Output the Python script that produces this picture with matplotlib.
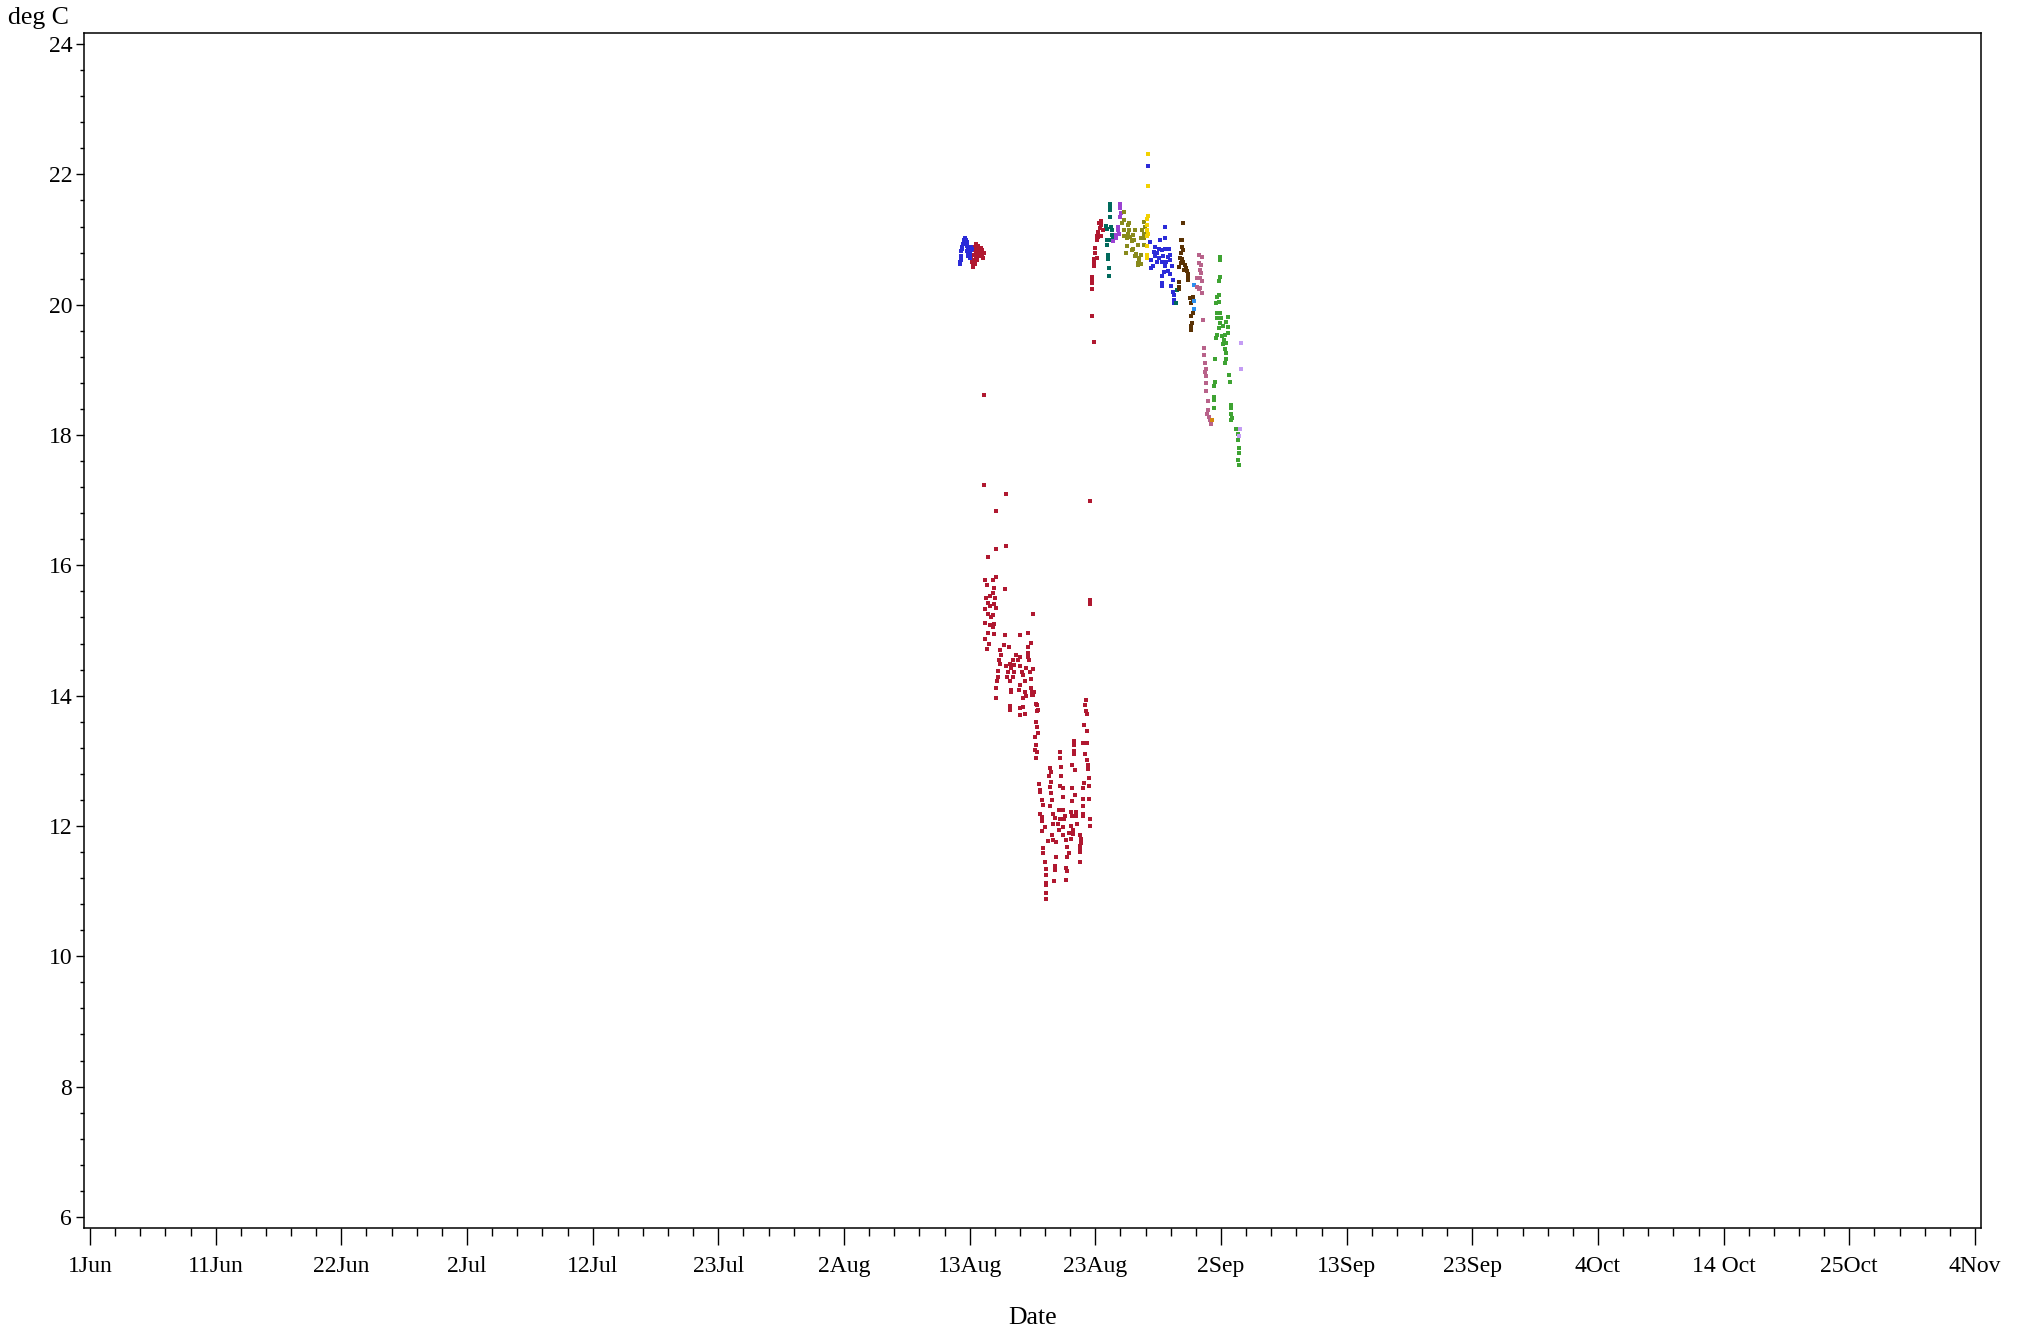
import matplotlib
matplotlib.use("Agg")
import matplotlib.pyplot as plt
from matplotlib.ticker import MultipleLocator, NullFormatter

# x values are days since 1 Jun, y values are deg C
tick_labels = ["1Jun", "11Jun", "22Jun", "2Jul", "12Jul", "23Jul", "2Aug", "13Aug",
               "23Aug", "2Sep", "13Sep", "23Sep", "4Oct", "14 Oct", "25Oct", "4Nov"]

red_pts = [
    # 13 Aug
    (72.95, 20.72), (73.0, 20.66), (73.05, 20.6), (73.1, 20.68), (73.15, 20.76), (73.2, 20.84),
    (73.25, 20.88), (73.3, 20.91), (73.35, 20.93), (73.45, 20.9), (73.5, 20.86), (73.55, 20.8),
    (73.6, 20.75), (73.65, 20.82), (73.7, 20.87), (73.8, 20.84), (73.85, 20.78), (73.9, 20.72),
    (73.3, 20.8), (73.35, 20.74), (73.4, 20.68), (73.2, 20.62), (73.1, 20.58), (73.95, 20.8),
    (73.95, 18.62),
    # drop
    (74.0, 17.23), (75.8, 17.09), (75.0, 16.84), (75.8, 16.30), (75.0, 16.25), (74.3, 16.13),
    (74.1, 15.78), (74.2, 15.70), (74.75, 15.78), (74.95, 15.82), (74.8, 15.65), (75.7, 15.64),
    (74.75, 15.58), (74.15, 15.50), (74.5, 15.53), (74.9, 15.50), (74.3, 15.42), (74.85, 15.41),
    (74.1, 15.33), (74.5, 15.37), (74.95, 15.34), (74.35, 15.26), (74.6, 15.21), (74.75, 15.24),
    (78.06, 15.26), (74.1, 15.11), (74.5, 15.09), (74.8, 15.10), (74.7, 15.05), (74.35, 14.96),
    (74.8, 14.95), (75.7, 14.93), (76.95, 14.93), (77.6, 14.96), (74.1, 14.87), (74.4, 14.80),
    (74.2, 14.72), (75.6, 14.78), (76.05, 14.75), (77.6, 14.75), (77.9, 14.81), (75.3, 14.70),
    (75.4, 14.62), (76.65, 14.62), (76.95, 14.60), (77.6, 14.65), (75.25, 14.55), (76.4, 14.55),
    (76.8, 14.54), (77.6, 14.60), (77.7, 14.54), (75.3, 14.49), (76.1, 14.49), (76.5, 14.47),
    (75.8, 14.45), (76.2, 14.42), (76.95, 14.45), (77.5, 14.42), (78.05, 14.41), (77.8, 14.37),
    (75.15, 14.38), (75.95, 14.37), (76.45, 14.37), (77.15, 14.37), (75.9, 14.29), (75.15, 14.29),
    (76.4, 14.29), (77.2, 14.32), (77.9, 14.25), (75.05, 14.22), (76.1, 14.22), (76.95, 14.16),
    (77.35, 14.23), (75.0, 14.11), (76.2, 14.09), (76.9, 14.09), (77.35, 14.06), (78.0, 14.06),
    (76.2, 14.05), (77.45, 14.00), (78.06, 14.01), (75.0, 13.97), (77.2, 13.97), (78.3, 13.87),
    (76.1, 13.84), (76.1, 13.78), (76.95, 13.81), (77.2, 13.82), (78.45, 13.78), (76.95, 13.70),
    (77.35, 13.72), (77.9, 14.11), (78.1, 14.06), (78.0, 14.01), (78.4, 13.86), (78.4, 13.77),
    (78.3, 13.60), (78.35, 13.52), (78.45, 13.42), (78.2, 13.37), (78.3, 13.24), (78.2, 13.16),
    (78.4, 13.14), (78.3, 13.04),
    # low part
    (78.55, 12.65), (78.6, 12.55), (78.6, 12.52), (78.75, 12.40), (78.9, 12.32), (78.6, 12.19),
    (78.8, 12.14), (78.75, 12.07), (79.0, 11.99), (78.75, 11.93), (78.9, 11.66), (78.9, 11.58),
    (79.0, 11.45), (79.15, 11.34), (79.15, 11.25), (79.15, 11.12), (79.15, 11.10), (79.15, 10.97),
    (79.1, 10.88), (79.45, 12.89), (79.5, 12.83), (79.4, 12.76), (79.5, 12.68), (79.45, 12.60),
    (79.5, 12.50), (79.65, 12.40), (79.45, 12.30), (79.7, 12.19), (79.85, 12.12), (79.7, 12.03),
    (79.6, 11.86), (79.7, 11.79), (79.3, 11.77), (79.95, 11.76), (79.95, 11.53), (79.85, 11.38),
    (79.85, 11.33), (79.8, 11.15), (80.3, 13.14), (80.3, 13.04), (80.4, 12.91), (80.4, 12.76),
    (80.25, 12.61), (80.55, 12.58), (80.5, 12.44), (80.2, 12.25), (80.55, 12.24), (80.7, 12.15),
    (80.3, 12.11), (80.6, 12.10), (80.1, 12.03), (80.55, 11.98), (80.2, 11.94), (80.55, 11.86),
    (80.8, 11.78), (80.85, 11.68), (81.0, 11.58), (80.85, 11.52), (80.8, 11.36), (80.85, 11.31),
    (80.8, 11.17), (81.45, 13.31), (81.45, 13.24), (81.4, 13.15), (81.45, 13.10), (81.25, 12.93),
    (81.55, 12.86), (81.3, 12.58), (81.55, 12.48), (81.25, 12.38), (81.15, 12.22), (81.6, 12.22),
    (81.25, 12.15), (81.15, 12.00), (81.35, 11.94), (81.0, 11.89), (81.35, 11.88), (81.15, 11.80),
    (81.9, 11.86), (82.0, 11.80), (82.0, 11.74), (81.95, 11.70), (81.9, 11.65), (81.95, 11.60),
    (81.95, 11.45), (81.6, 12.16), (81.7, 12.03), (82.15, 12.16), (82.4, 13.93), (82.35, 13.85),
    (82.4, 13.77), (82.5, 13.72), (82.25, 13.55), (82.5, 13.45), (82.2, 13.27), (82.55, 13.27),
    (82.35, 13.10), (82.55, 13.02), (82.6, 12.94), (82.6, 12.87), (82.65, 12.74), (82.25, 12.66),
    (82.65, 12.62), (82.2, 12.59), (82.2, 12.42), (82.65, 12.42), (82.15, 12.31), (82.15, 12.18),
    (82.75, 12.11), (82.8, 12.00),
    # recovery
    (82.8, 16.98), (82.8, 15.47), (82.8, 15.40), (82.95, 19.83), (83.05, 19.43), (82.95, 20.43),
    (82.95, 20.38), (82.95, 20.33), (82.9, 20.24), (83.1, 20.66), (83.1, 20.70), (83.05, 20.59),
    (83.3, 20.71), (83.15, 20.79), (83.2, 20.87), (83.3, 20.99), (83.4, 21.04), (83.4, 21.12),
    (83.6, 21.17), (83.5, 21.25), (83.7, 21.22), (83.8, 21.15), (83.65, 21.06), (83.3, 21.05),
    (83.7, 21.28),
]

blue_pts = [
    (72.0, 20.62), (72.02, 20.65), (72.05, 20.68), (72.1, 20.75), (72.12, 20.82), (72.15, 20.86),
    (72.2, 20.88), (72.25, 20.93), (72.3, 20.97), (72.35, 20.99), (72.38, 21.0), (72.45, 21.02),
    (72.5, 21.0), (72.55, 20.96), (72.6, 20.9), (72.6, 20.82), (72.65, 20.85), (72.7, 20.8),
    (72.7, 20.74), (72.75, 20.76), (72.8, 20.72), (72.85, 20.78), (72.9, 20.84), (72.95, 20.88),
    (73.0, 20.85),
    (87.6, 22.13), (88.95, 21.19), (88.95, 21.02), (88.55, 20.99), (87.75, 20.97), (88.15, 20.89),
    (88.45, 20.86), (88.05, 20.81), (88.3, 20.79), (88.7, 20.84), (88.95, 20.85), (89.3, 20.86),
    (88.1, 20.74), (88.45, 20.71), (88.8, 20.74), (87.8, 20.68), (88.3, 20.66), (88.7, 20.65),
    (89.05, 20.66), (89.35, 20.68), (87.95, 20.60), (88.95, 20.60), (89.55, 20.60), (87.8, 20.57),
    (89.2, 20.52), (88.85, 20.50), (89.35, 20.47), (88.7, 20.44), (89.6, 20.38), (88.7, 20.33),
    (89.5, 20.28), (88.7, 20.28), (89.6, 20.20), (89.7, 20.15), (89.75, 20.07), (89.75, 20.02),
    (89.4, 20.77), (89.2, 20.73),
]

teal_pts = [
    (84.4, 21.55), (84.4, 21.50), (84.4, 21.46), (84.45, 21.34), (84.1, 21.21), (84.15, 21.16),
    (84.5, 21.19), (84.55, 21.14), (84.6, 21.07), (84.65, 21.02), (84.15, 20.99), (84.35, 20.99),
    (84.15, 20.92), (84.25, 20.76), (84.25, 20.70), (84.3, 20.56), (84.3, 20.44),
    (89.9, 20.02), (89.95, 20.22),
]

purple_pts = [
    (85.25, 21.55), (85.25, 21.48), (85.3, 21.40), (85.25, 21.35), (85.1, 21.19), (85.05, 21.14),
    (84.95, 21.07), (84.9, 21.02), (84.7, 20.98), (85.15, 21.09),
]

olive_pts = [
    (85.6, 21.42), (85.4, 21.26), (85.55, 21.30), (85.55, 21.15), (85.9, 21.22), (85.95, 21.15),
    (86.0, 21.25), (85.9, 21.08), (85.6, 21.05), (85.8, 21.02), (86.1, 21.04), (86.35, 21.07),
    (86.45, 21.15), (86.4, 21.00), (86.2, 20.98), (85.8, 20.90), (85.75, 20.80), (86.25, 20.84),
    (86.75, 20.92), (86.6, 20.78), (86.5, 20.74), (86.8, 20.71), (86.85, 20.67), (86.7, 20.64),
    (86.95, 20.62), (86.75, 20.61), (87.0, 20.76), (87.2, 20.91), (87.25, 21.03), (87.2, 21.09),
    (87.3, 21.19), (87.2, 21.27), (87.05, 21.15), (87.0, 21.02), (86.3, 20.86),
]

yellow_pts = [
    (87.6, 22.32), (87.55, 21.82), (87.55, 21.36), (87.5, 21.32), (87.5, 21.22), (87.5, 21.14),
    (87.55, 21.08), (87.45, 21.06), (87.45, 20.90), (87.45, 20.76), (87.5, 20.72),
]

brown_pts = [
    (90.45, 21.26), (90.3, 21.0), (90.4, 21.0), (90.35, 20.88), (90.45, 20.84), (90.3, 20.79),
    (90.2, 20.71), (90.35, 20.70), (90.45, 20.66), (90.25, 20.64), (90.6, 20.61), (90.15, 20.58),
    (90.7, 20.56), (90.8, 20.51), (90.85, 20.47), (90.5, 20.54), (90.15, 20.35), (90.15, 20.27),
    (90.15, 20.24), (90.9, 20.43), (90.9, 20.38), (91.3, 20.12), (91.0, 20.10), (91.3, 20.05),
    (91.1, 20.02), (91.3, 19.88), (91.1, 19.83), (91.2, 19.72), (91.1, 19.67), (91.1, 19.61),
]

skyblue_pts = [(91.4, 20.30), (91.35, 20.06), (91.35, 19.93)]

mauve_pts = [
    (91.75, 20.76), (92.0, 20.73), (91.75, 20.64), (91.95, 20.61), (91.85, 20.54), (91.95, 20.49),
    (91.85, 20.41), (91.65, 20.41), (92.0, 20.36), (91.6, 20.27), (91.75, 20.24), (91.9, 20.25),
    (92.0, 20.18), (92.15, 19.77), (92.2, 19.33), (92.2, 19.23), (92.3, 19.11), (92.35, 19.02),
    (92.3, 18.97), (92.4, 18.90), (92.4, 18.80), (92.4, 18.67), (92.5, 18.52), (92.5, 18.38),
    (92.45, 18.33), (92.6, 18.27), (92.65, 18.23), (92.75, 18.17),
]

orange_pts = [(92.85, 18.23)]

green_pts = [
    (93.5, 20.73), (93.5, 20.68), (93.55, 20.43), (93.4, 20.37), (93.45, 20.15), (93.3, 20.12),
    (93.4, 20.04), (93.2, 20.02), (93.25, 19.88), (93.5, 19.87), (93.3, 19.80), (93.6, 19.80),
    (94.2, 19.81), (94.05, 19.74), (93.5, 19.72), (93.75, 19.68), (94.2, 19.66), (93.45, 19.64),
    (93.25, 19.54), (93.65, 19.52), (93.95, 19.54), (94.2, 19.56), (93.15, 19.49), (93.85, 19.46),
    (94.05, 19.41), (93.75, 19.39), (93.95, 19.32), (94.0, 19.26), (94.0, 19.17), (93.95, 19.11),
    (93.1, 19.17), (94.3, 18.92), (94.35, 18.82), (93.1, 18.82), (93.05, 18.75), (93.05, 18.59),
    (93.05, 18.54), (93.05, 18.41), (94.4, 18.46), (94.45, 18.41), (94.45, 18.33), (94.55, 18.26),
    (94.45, 18.23), (94.85, 18.09), (95.0, 18.01), (95.0, 17.93), (95.05, 17.80), (95.05, 17.72),
    (95.0, 17.62), (95.05, 17.54),
]

lavender_pts = [(95.25, 19.42), (95.25, 19.01), (95.2, 18.09), (95.1, 17.99)]

series = [
    (red_pts, "#b01830"), (blue_pts, "#2b2bd8"), (teal_pts, "#006a5c"),
    (purple_pts, "#9b42d2"), (olive_pts, "#888a1c"), (yellow_pts, "#f2d100"),
    (brown_pts, "#5a3204"), (skyblue_pts, "#2a90f0"), (mauve_pts, "#b8628a"),
    (orange_pts, "#d4860e"), (green_pts, "#3ea332"), (lavender_pts, "#c49cf4"),
]

plt.rcParams["font.family"] = ["Liberation Serif", "DejaVu Serif"]

fig = plt.figure(figsize=(20.24, 13.35), dpi=100)
ax = fig.add_axes([84 / 2024, 1 - 1228 / 1335, (1981 - 84) / 2024, (1228 - 33) / 1335])

for pts, col in series:
    xs = [p[0] for p in pts]
    ys = [p[1] for p in pts]
    ax.scatter(xs, ys, s=12, marker="s", color=col, linewidths=0)

ax.set_xlim(-0.5, 156.5)
ax.set_ylim(5.83, 24.17)

# x axis: 16 evenly spaced ticks, 1 Jun to 4 Nov
step = 156 / 15
ax.set_xticks([i * step for i in range(len(tick_labels))])
ax.set_xticklabels(tick_labels)
ax.xaxis.set_minor_locator(MultipleLocator(step / 5))
ax.xaxis.set_minor_formatter(NullFormatter())
ax.yaxis.set_major_locator(MultipleLocator(2))
ax.yaxis.set_minor_locator(MultipleLocator(0.4))

ax.tick_params(axis="x", which="major", length=12, width=1, pad=8, labelsize=17)
ax.tick_params(axis="x", which="minor", length=6, width=1)
ax.tick_params(axis="y", which="major", length=5.5, width=1, pad=3, labelsize=17)
ax.tick_params(axis="y", which="minor", length=3, width=1)

for sp in ax.spines.values():
    sp.set_linewidth(1.1)

fig.text(8 / 2024, 1 - 18 / 1335, "deg C", fontsize=18.5, ha="left", va="center")
fig.text(1033 / 2024, 1 - 1318 / 1335, "Date", fontsize=18.5, ha="center", va="center")

fig.savefig("out.png", dpi=100, facecolor="white")
